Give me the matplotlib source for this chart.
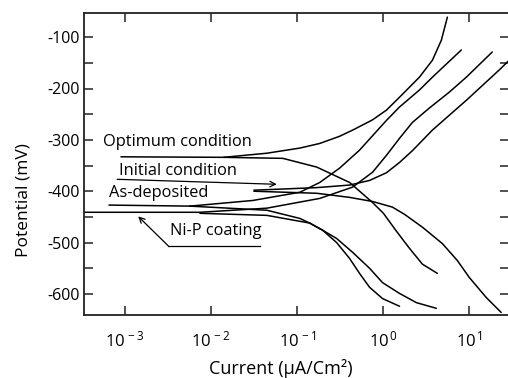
import numpy as np
import matplotlib
matplotlib.use('Agg')
import matplotlib.pyplot as plt
from matplotlib.ticker import FixedLocator, NullFormatter

plt.rcParams['font.family'] = ['Open Sans', 'DejaVu Sans']
plt.rcParams['mathtext.fontset'] = 'custom'
plt.rcParams['mathtext.rm'] = 'Open Sans'
plt.rcParams['mathtext.it'] = 'Open Sans:italic'
plt.rcParams['mathtext.bf'] = 'Open Sans:bold'
plt.rcParams['axes.unicode_minus'] = False

# current in uA/cm2, potential in mV
opt_anodic_i = [0.0140, 0.0442, 0.107, 0.182, 0.310, 0.439, 0.748, 1.086, 1.538, 2.618, 3.707, 4.710, 5.534]
opt_anodic_e = [-334, -326, -316, -307, -293, -281, -261, -242, -217, -178, -145, -106, -61]
opt_cath_i = [0.0140, 0.0678, 0.168, 0.405, 0.748, 1.0, 1.419, 2.004, 2.838, 4.236]
opt_cath_e = [-334, -336, -353, -383, -422, -443, -478, -511, -542, -560]

ini_anodic_i = [0.0313, 0.168, 0.405, 0.690, 1.086, 1.538, 2.173, 3.707, 9.183, 22.13, 28.5]
ini_anodic_e = [-398, -393, -388, -379, -364, -344, -321, -281, -223, -164, -146]
ini_cath_i = [0.0313, 0.168, 0.405, 0.748, 1.274, 1.758, 2.838, 4.842, 7.23, 9.954, 15.67, 23.33]
ini_cath_e = [-400, -404, -412, -420, -431, -445, -470, -502, -535, -568, -607, -636]

asd_anodic_i = [0.00566, 0.0304, 0.107, 0.182, 0.310, 0.528, 1.086, 1.538, 2.618, 3.707, 8.035]
asd_anodic_e = [-429, -418, -402, -383, -355, -320, -262, -236, -203, -178, -125]
asd_cath_i = [0.00566, 0.0442, 0.107, 0.139, 0.197, 0.286, 0.405, 0.528, 0.690, 0.977, 1.538]
asd_cath_e = [-429, -437, -453, -462, -476, -500, -531, -560, -587, -609, -624]

nip_anodic_i = [3.35e-4, 0.0074, 0.0442, 0.182, 0.439, 0.748, 1.086, 1.538, 2.173, 3.420, 5.834, 9.183, 18.37]
nip_anodic_e = [-441, -441, -433, -414, -392, -363, -330, -297, -266, -238, -207, -178, -129]
nip_cath_i = [0.0074, 0.0442, 0.139, 0.197, 0.286, 0.439, 0.690, 0.977, 1.538, 2.421, 4.121]
nip_cath_e = [-443, -447, -462, -476, -492, -519, -550, -578, -599, -617, -628]

xticks = [1e-3, 1e-2, 1e-1, 1e0, 1e1]
xticklabels = [r'$\mathregular{10^{\,-3}}$', r'$\mathregular{10^{\,-2}}$', r'$\mathregular{10^{\,-1}}$',
               r'$\mathregular{10^{\,0}}$', r'$\mathregular{10^{\,1}}$']
yticks = [-600, -500, -400, -300, -200, -100]

fig = plt.figure(figsize=(5.08, 3.78), dpi=100)
ax = fig.add_axes([84.3 / 508, 63 / 378, 425 / 508, 302 / 378])

lw = 1.1
for i, e in [(opt_anodic_i, opt_anodic_e), (opt_cath_i, opt_cath_e),
             (ini_anodic_i, ini_anodic_e), (ini_cath_i, ini_cath_e),
             (asd_anodic_i, asd_anodic_e), (asd_cath_i, asd_cath_e),
             (nip_anodic_i, nip_anodic_e), (nip_cath_i, nip_cath_e)]:
    ax.plot(i, e, color='k', lw=lw, solid_capstyle='round', solid_joinstyle='round')

ax.set_xscale('log')
ax.set_xlim(3.35e-4, 29)
ax.set_ylim(-641, -53)

ax.xaxis.set_major_locator(FixedLocator(xticks))
ax.xaxis.set_minor_locator(FixedLocator([]))
ax.set_xticklabels(xticklabels)
ax.yaxis.set_major_locator(FixedLocator(yticks))
ax.yaxis.set_minor_locator(FixedLocator([-550, -450, -350, -250, -150]))
ax.yaxis.set_minor_formatter(NullFormatter())

ax.tick_params(which='both', direction='in', top=True, right=True, length=6.5, width=1.1, colors='#222222',
               labelcolor='black', labelsize=11.5)
ax.tick_params(axis='x', pad=11, labelsize=12)
ax.tick_params(axis='y', pad=3)
for s in ax.spines.values():
    s.set_linewidth(1.3)
    s.set_color('#222222')

# labels with their leader lines
fs = 11.8
ax.text(5.56e-4, -312, 'Optimum condition', fontsize=fs, va='baseline')
ax.plot([9.0e-4, 0.014], [-333, -334], color='k', lw=lw)

ax.text(8.5e-4, -367.6, 'Initial condition', fontsize=fs, va='baseline')
ax.annotate('', xy=(0.0577, -386.5), xytext=(8.07e-4, -376.8),
            arrowprops=dict(arrowstyle='->', lw=0.9, color='k', shrinkA=0, shrinkB=0))

ax.text(6.53e-4, -412, 'As-deposited', fontsize=fs, va='baseline')
ax.plot([6.53e-4, 0.00566], [-427, -429], color='k', lw=lw)

ax.text(3.32e-3, -486, 'Ni-P coating', fontsize=fs, va='baseline')
ax.plot([3.15e-3, 0.0366], [-506, -506], color='k', lw=0.9)
ax.annotate('', xy=(1.416e-3, -449), xytext=(3.15e-3, -506),
            arrowprops=dict(arrowstyle='->', lw=0.9, color='k', shrinkA=0, shrinkB=0))

fig.text(281 / 508, 1 - 368 / 378, 'Current (μA/Cm²)', fontsize=13, ha='center', va='center')
fig.text(24 / 508, 1 - 200 / 378, 'Potential (mV)', fontsize=12.5, rotation=90, ha='center', va='center')

fig.savefig('out.png', dpi=100)
